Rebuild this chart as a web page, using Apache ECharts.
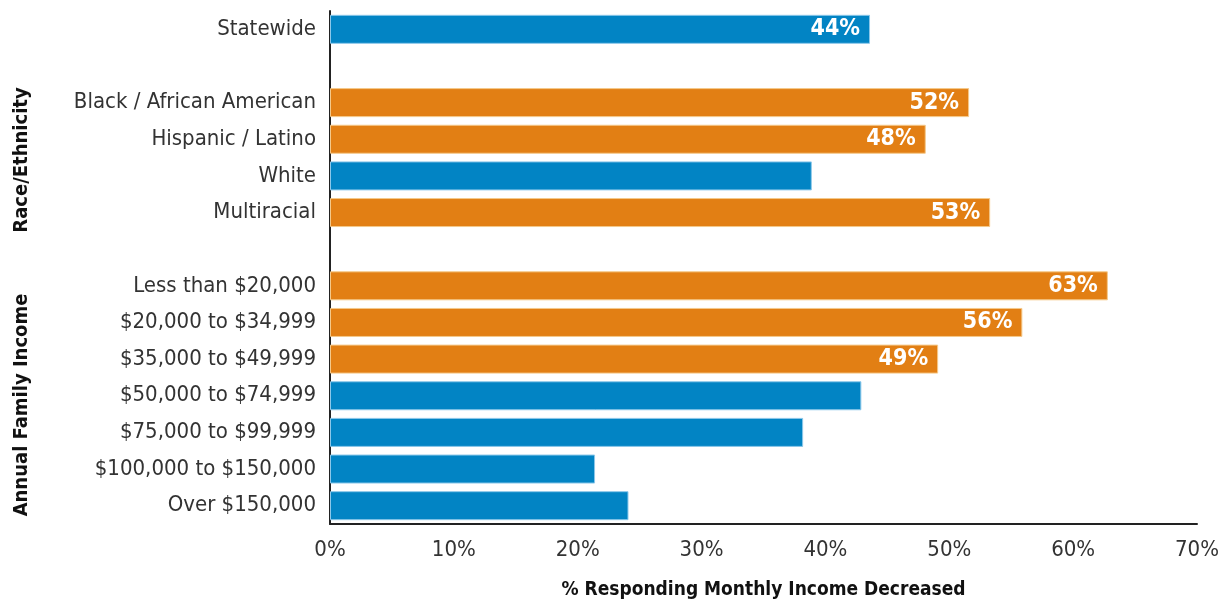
<!DOCTYPE html>
<html>
<head>
<meta charset="utf-8">
<script src="https://cdn.jsdelivr.net/npm/echarts@6/dist/echarts.min.js"></script>
<style>
    html, body { margin: 0; padding: 0; background: #fff; }
    #chart { width: 1231px; height: 602px; }
</style>
</head>
<body>
<div id="chart"></div>
<script>
// 类别（空字符串为分组间隔）
const categories = [
    'Statewide', '',
    'Black / African American', 'Hispanic / Latino', 'White', 'Multiracial', '',
    'Less than $20,000', '$20,000 to $34,999', '$35,000 to $49,999', '$50,000 to $74,999',
    '$75,000 to $99,999', '$100,000 to $150,000', 'Over $150,000'
];
// 回答收入下降的百分比
const values = [43.6, null, 51.6, 48.1, 38.9, 53.3, null, 62.8, 55.9, 49.1, 42.9, 38.2, 21.4, 24.1];
const xTicks = [0, 10, 20, 30, 40, 50, 60, 70];
const groupTitles = ['Race/Ethnicity', 'Annual Family Income'];

const FONT = '"Liberation Sans Narrow", "DejaVu Sans Condensed", sans-serif';
const BLUE = '#0284C4';
const ORANGE = '#E27F14';
const statewide = values[0];

const chart = echarts.init(document.getElementById('chart'));

const option = {
    animation: false,
    grid: {
        left: 330, right: 34, top: 11, bottom: 78,
        containLabel: false,
        outerBoundsMode: 'none'
    },
    xAxis: {
        type: 'value',
        min: xTicks[0],
        max: xTicks[xTicks.length - 1],
        interval: 10,
        axisLine: { show: true, lineStyle: { color: '#222', width: 2 } },
        axisTick: { show: false },
        splitLine: { show: false },
        axisLabel: {
            formatter: v => v + '%',
            fontFamily: FONT, fontSize: 22, color: '#333', margin: 15
        },
        name: '% Responding Monthly Income Decreased',
        nameLocation: 'middle',
        nameGap: 57,
        nameTextStyle: { fontFamily: FONT, fontSize: 19, fontWeight: 'bold', color: '#111' }
    },
    yAxis: {
        type: 'category',
        inverse: true,
        data: categories,
        axisLine: { show: true, lineStyle: { color: '#222', width: 2 } },
        axisTick: { show: false },
        axisLabel: { fontFamily: FONT, fontSize: 22, color: '#333', margin: 14 }
    },
    series: [{
        type: 'bar',
        barWidth: 29,
        data: values.map((v, i) => ({
            value: v,
            itemStyle: {
                color: (i === 0 || v <= statewide) ? BLUE : ORANGE,
                borderColor: (i === 0 || v <= statewide) ? '#8cc8ea' : '#f5c98a',
                borderWidth: 1
            },
            label: { show: v != null && v >= statewide }
        })),
        label: {
            position: 'insideRight',
            distance: 10,
            formatter: p => Math.round(p.value) + '%',
            fontFamily: FONT, fontSize: 23, fontWeight: 'bold', color: '#fff'
        }
    }],
    graphic: [
        {
            type: 'text', x: 22, y: 160, rotation: Math.PI / 2,
            style: {
                text: groupTitles[0], fontFamily: FONT, fontSize: 20, fontWeight: 'bold',
                fill: '#111', align: 'center', verticalAlign: 'middle'
            }
        },
        {
            type: 'text', x: 22, y: 405, rotation: Math.PI / 2,
            style: {
                text: groupTitles[1], fontFamily: FONT, fontSize: 20, fontWeight: 'bold',
                fill: '#111', align: 'center', verticalAlign: 'middle'
            }
        }
    ]
};

chart.setOption(option);
</script>
</body>
</html>
